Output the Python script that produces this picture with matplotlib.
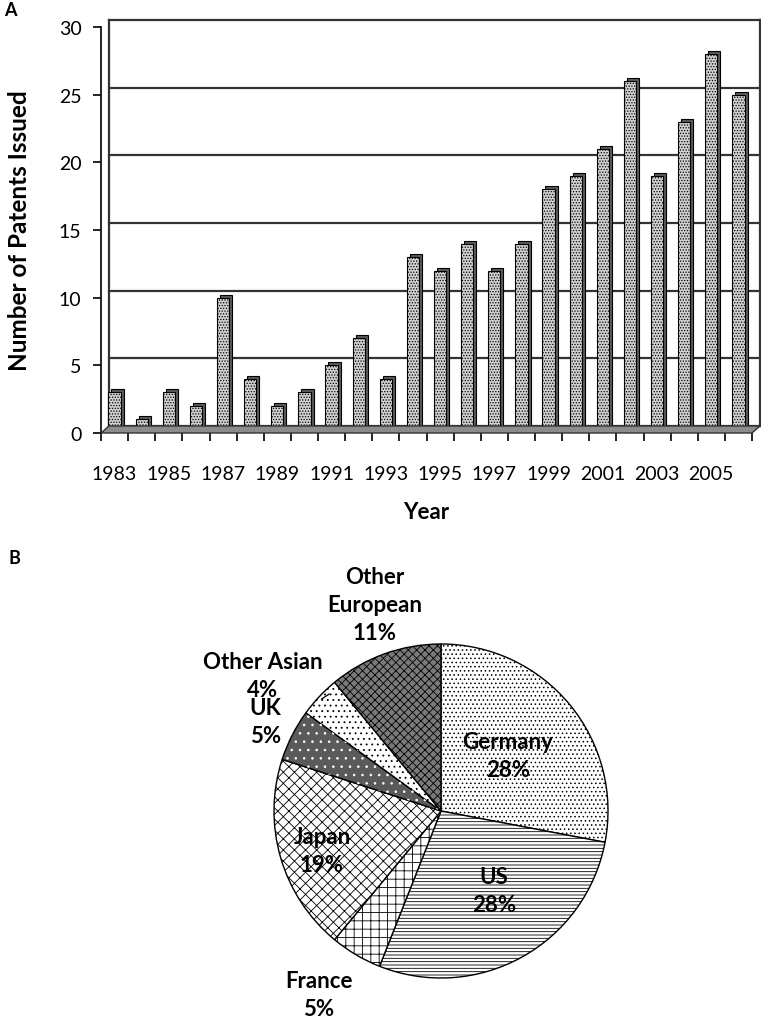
import numpy as np
import matplotlib
matplotlib.use("Agg")
import matplotlib.pyplot as plt
from matplotlib.transforms import ScaledTranslation
from matplotlib.patches import Polygon, Wedge

# panel A data
years = list(range(1983, 2007))
patents = [3, 1, 3, 2, 10, 4, 2, 3, 5, 7, 4, 13, 12, 14, 12, 14, 18, 19, 21, 26, 19, 23, 28, 25]
y_ticks = [0, 5, 10, 15, 20, 25, 30]

# panel B data
countries = ["Germany", "US", "France", "Japan", "UK", "Other Asian", "Other European"]
shares = [28, 28, 5, 19, 5, 4, 11]
pie_labels = ["Germany\n28%", "US\n28%", "France\n5%", "Japan\n19%", "UK\n5%",
              "Other Asian\n4%", "Other\nEuropean\n11%"]

plt.rcParams["font.family"] = ["Lato", "DejaVu Sans"]
plt.rcParams["hatch.linewidth"] = 0.6

W, H = 761, 1020
fig = plt.figure(figsize=(W / 100, H / 100), dpi=100)

# ---------------- panel A ----------------
ax = fig.add_axes([101 / W, (H - 434) / H, 651 / W, 406 / H])
x = np.arange(len(years))
ax.set_xlim(-0.5, len(years) - 0.5)
ax.set_ylim(0, 30)

depth = ScaledTranslation(8 / 100, 7 / 100, fig.dpi_scale_trans)
back = ax.transData + depth

# back wall gridlines and frame
for t in y_ticks:
    ax.plot([-0.5, len(years) - 0.5], [t, t], color="#333333", lw=1.6,
            transform=back, clip_on=False, zorder=1)
ax.plot([-0.5, -0.5], [0, 30], color="#333333", lw=1.6, transform=back, clip_on=False, zorder=1)
ax.plot([len(years) - 0.5] * 2, [0, 30], color="#333333", lw=1.6, transform=back,
        clip_on=False, zorder=1)

# floor
p0 = ax.transData.transform([(-0.5, 0), (len(years) - 0.5, 0)])
p1 = back.transform([(len(years) - 0.5, 0), (-0.5, 0)])
floor = Polygon(np.vstack([p0, p1]), closed=True, transform=None, facecolor="#8c8c8c",
                edgecolor="#333333", lw=1.0, zorder=1.5)
fig.patches.append(floor)

# bars with a fake 3D side
side = ax.transData + ScaledTranslation(3 / 100, 3 / 100, fig.dpi_scale_trans)
ax.bar(x, patents, width=0.45, color="#5a5a5a", edgecolor="black", lw=0.8,
       transform=side, zorder=2)
ax.bar(x, patents, width=0.45, color="#d0d0d0", edgecolor="black", hatch="......",
       lw=0.8, zorder=3)

for s in ["top", "right", "bottom"]:
    ax.spines[s].set_visible(False)
ax.spines["left"].set_linewidth(1.2)
ax.axhline(0, color="black", lw=1.2, zorder=4)
ax.set_yticks(y_ticks)
ax.set_yticklabels([str(t) for t in y_ticks], fontsize=14)
ax.set_xticks(np.arange(-0.5, len(years)), minor=True)
ax.set_xticks(x[::2])
ax.set_xticklabels([str(y) for y in years[::2]], fontsize=14)
ax.tick_params(axis="x", which="major", length=0, pad=23)
ax.tick_params(axis="x", which="minor", length=6, width=1.2)
ax.tick_params(axis="y", length=6, width=1.2, pad=8)
ax.set_xlabel("Year", fontsize=16, fontweight="bold", labelpad=14)
ax.set_ylabel("Number of Patents Issued", fontsize=17.5, fontweight="bold", labelpad=20)

fig.text(4 / W, 1 - 11 / H, "A", fontsize=13, fontweight="bold", va="center")
fig.text(8 / W, 1 - 559 / H, "B", fontsize=13, fontweight="bold", va="center")

# ---------------- panel B ----------------
R = 167
pax = fig.add_axes([(441 - R) / W, (H - 812 - R) / H, 2 * R / W, 2 * R / H])
faces = ["white", "white", "white", "white", "#5a5a5a", "white", "#7a7a7a"]
hatches = ["....", "-----", "++", "xxx", "", "...", "xxxx"]
wedges, _ = pax.pie(shares, startangle=90, counterclock=False, radius=1,
                    wedgeprops=dict(edgecolor="black", linewidth=1.0))
for w, fc, h in zip(wedges, faces, hatches):
    w.set_facecolor(fc)
    w.set_hatch(h)
# UK: white dots on dark grey
uk = wedges[countries.index("UK")]
pax.add_patch(Wedge(uk.center, uk.r, uk.theta1, uk.theta2, facecolor="none",
                    edgecolor="white", hatch="..", lw=0, zorder=uk.get_zorder() + 0.1))
pax.set_xlim(-1, 1)
pax.set_ylim(-1, 1)
pax.set_aspect("equal")

# label placement: distance and angle tweak per wedge
label_dist = [0.52, 0.57, 1.32, 0.75, 1.18, 1.34, 1.30]
angle_tweak = [0, 5, -3, 2, 0, 6, -2]
cum = np.cumsum([0] + shares)
for i, lab in enumerate(pie_labels):
    mid = 90 - (cum[i] + shares[i] / 2) * 3.6 + angle_tweak[i]
    r = label_dist[i]
    tx, ty = r * np.cos(np.radians(mid)), r * np.sin(np.radians(mid))
    pax.text(tx, ty, lab, ha="center", va="center", fontsize=16, fontweight="bold",
             linespacing=1.4, clip_on=False, zorder=10)

# leader line for Other Asian
mid_oa = np.radians(90 - (cum[5] + shares[5] / 2) * 3.6)
pax.plot([0.98 * np.cos(mid_oa), -0.67], [0.98 * np.sin(mid_oa), 0.70], color="black",
         lw=0.9, clip_on=False)

fig.savefig("out.png", dpi=100)
